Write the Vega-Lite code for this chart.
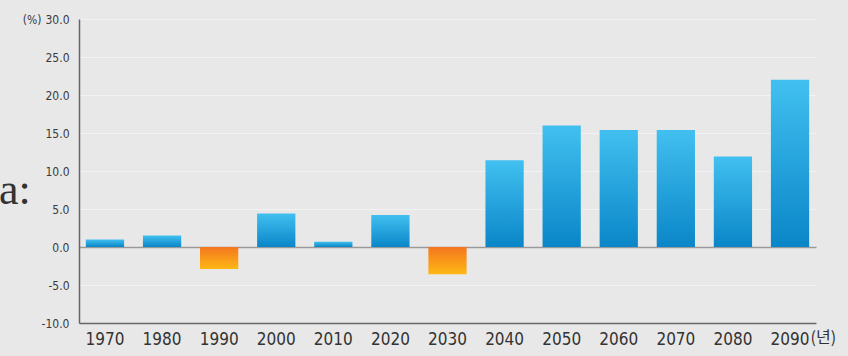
{
  "$schema": "https://vega.github.io/schema/vega-lite/v6.json",
  "width": 737,
  "height": 304,
  "autosize": "none",
  "padding": {"left": 79, "top": 19, "right": 32, "bottom": 33},
  "background": "#e8e8e8",
  "config": {"view": {"stroke": null}},
  "title": {
    "text": "a:",
    "font": "Liberation Serif",
    "fontSize": 44,
    "fontWeight": "normal",
    "color": "#333333",
    "anchor": "start",
    "frame": "group",
    "dx": -80,
    "dy": 200,
    "offset": 0
  },
  "data": {
    "values": [
      {"year": "1970", "value": 1.0},
      {"year": "1980", "value": 1.5},
      {"year": "1990", "value": -2.9},
      {"year": "2000", "value": 4.4},
      {"year": "2010", "value": 0.7},
      {"year": "2020", "value": 4.2},
      {"year": "2030", "value": -3.6},
      {"year": "2040", "value": 11.4},
      {"year": "2050", "value": 16.0},
      {"year": "2060", "value": 15.4},
      {"year": "2070", "value": 15.4},
      {"year": "2080", "value": 11.9},
      {"year": "2090", "value": 22.0}
    ]
  },
  "mark": {"type": "bar"},
  "encoding": {
    "x": {
      "field": "year",
      "type": "ordinal",
      "scale": {"paddingInner": 0.33, "paddingOuter": 0.12},
      "axis": {
        "labelAngle": 0,
        "labelFont": "DejaVu Sans Condensed",
        "labelFontSize": 17,
        "labelColor": "#333333",
        "labelPadding": 8,
        "ticks": false,
        "domainColor": "#666666",
        "domainWidth": 1.5,
        "title": "(년)",
        "titleFont": "Noto Sans CJK KR",
        "titleFontSize": 16,
        "titleFontWeight": "normal",
        "titleColor": "#333333",
        "titleAlign": "left",
        "titleBaseline": "top",
        "titleAnchor": null,
        "titleX": 731,
        "titleY": 6
      }
    },
    "y": {
      "field": "value",
      "type": "quantitative",
      "scale": {"domain": [-10, 30], "nice": false},
      "axis": {
        "values": [-10, -5, 0, 5, 10, 15, 20, 25, 30],
        "format": ".1f",
        "labelExpr": "replace(datum.label, '−', '-')",
        "labelOverlap": false,
        "labelFont": "DejaVu Sans Condensed",
        "labelFontSize": 12,
        "labelColor": "#3a3a3a",
        "labelPadding": 10,
        "ticks": false,
        "domainColor": "#666666",
        "domainWidth": 1.5,
        "grid": true,
        "gridColor": {"condition": {"test": "datum.value === 0", "value": "#9a9a9a"}, "value": "#ffffff"},
        "gridOpacity": {"condition": {"test": "datum.value === 0", "value": 1}, "value": 0.45},
        "gridWidth": {"condition": {"test": "datum.value === 0", "value": 1.3}, "value": 1},
        "title": "(%)",
        "titleFont": "DejaVu Sans Condensed",
        "titleFontSize": 12,
        "titleFontWeight": "normal",
        "titleColor": "#3a3a3a",
        "titleAngle": 0,
        "titleAlign": "right",
        "titleBaseline": "middle",
        "titleAnchor": null,
        "titleX": -38,
        "titleY": 0
      }
    },
    "color": {
      "condition": {
        "test": "datum.value < 0",
        "value": {
          "gradient": "linear",
          "x1": 0, "y1": 0, "x2": 0, "y2": 1,
          "stops": [
            {"offset": 0, "color": "#f4761f"},
            {"offset": 1, "color": "#fdb814"}
          ]
        }
      },
      "value": {
        "gradient": "linear",
        "x1": 0, "y1": 0, "x2": 0, "y2": 1,
        "stops": [
          {"offset": 0, "color": "#41c0f0"},
          {"offset": 1, "color": "#0a86c8"}
        ]
      }
    }
  }
}
